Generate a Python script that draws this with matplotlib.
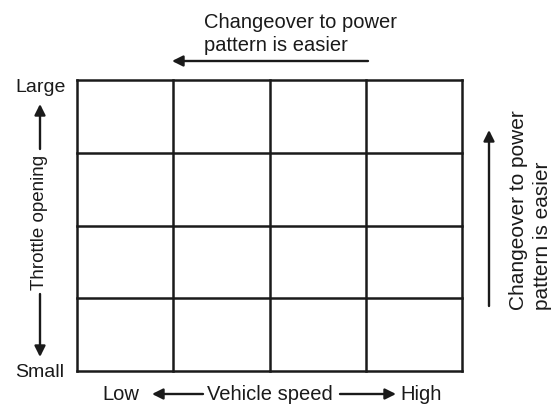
import matplotlib.pyplot as plt
from matplotlib.patches import FancyArrowPatch

plt.rcParams['font.family'] = ['Liberation Sans', 'DejaVu Sans']

# grid cells: vehicle speed (columns) x throttle opening (rows)
speed_edges = [0, 1, 2, 3, 4]
throttle_edges = [0, 1, 2, 3, 4]

x_labels = ["Low", "Vehicle speed", "High"]
y_labels = ["Small", "Throttle opening", "Large"]
note = ["Changeover to power", "pattern is easier"]

W, H = 552, 406
fig = plt.figure(figsize=(W / 100, H / 100), dpi=100)
ax = fig.add_axes([77 / W, 1 - 372 / H, (462 - 77) / W, (372 - 81) / H])
ax.set_xlim(speed_edges[0], speed_edges[-1])
ax.set_ylim(throttle_edges[0], throttle_edges[-1])
for x in speed_edges:
    ax.plot([x, x], [throttle_edges[0], throttle_edges[-1]], color="#1a1a1a", lw=1.8,
            solid_capstyle="projecting", clip_on=False)
for y in throttle_edges:
    ax.plot([speed_edges[0], speed_edges[-1]], [y, y], color="#1a1a1a", lw=1.8,
            solid_capstyle="projecting", clip_on=False)
ax.axis("off")


def px(x, y):
    return (x / W, 1 - y / H)


def arrow(start, end):
    fig.add_artist(FancyArrowPatch(
        px(*start), px(*end), transform=fig.transFigure, arrowstyle="-|>",
        mutation_scale=16, lw=1.7, color="#1a1a1a", shrinkA=0, shrinkB=0))


col = "#1a1a1a"

# top note
fig.text(*px(204, 28), note[0], ha="left", va="baseline", fontsize=14.5, color=col)
fig.text(*px(204, 51), note[1], ha="left", va="baseline", fontsize=14.5, color=col)
arrow((368, 62), (172, 62))

# right note
fig.text(*px(519, 310), note[0], ha="left", va="center", rotation=90, fontsize=15,
         color=col, rotation_mode="anchor")
fig.text(*px(543, 310), note[1], ha="left", va="center", rotation=90, fontsize=15,
         color=col, rotation_mode="anchor")
arrow((489, 307), (489, 131))

# left axis
fig.text(*px(41, 88), y_labels[2], ha="center", va="center", fontsize=14, color=col)
fig.text(*px(40, 373), y_labels[0], ha="center", va="center", fontsize=14, color=col)
fig.text(*px(40, 222), y_labels[1], ha="center", va="center", rotation=90, fontsize=13.5, color=col)
arrow((40, 150), (40, 105))
arrow((40, 295), (40, 358))

# bottom axis
fig.text(*px(102, 395), x_labels[0], ha="left", va="center", fontsize=14.5, color=col)
fig.text(*px(207, 395), x_labels[1], ha="left", va="center", fontsize=14.5, color=col)
fig.text(*px(400, 395), x_labels[2], ha="left", va="center", fontsize=14.5, color=col)
arrow((203, 395), (152, 395))
arrow((340, 395), (396, 395))

fig.savefig("out.png", dpi=100)
